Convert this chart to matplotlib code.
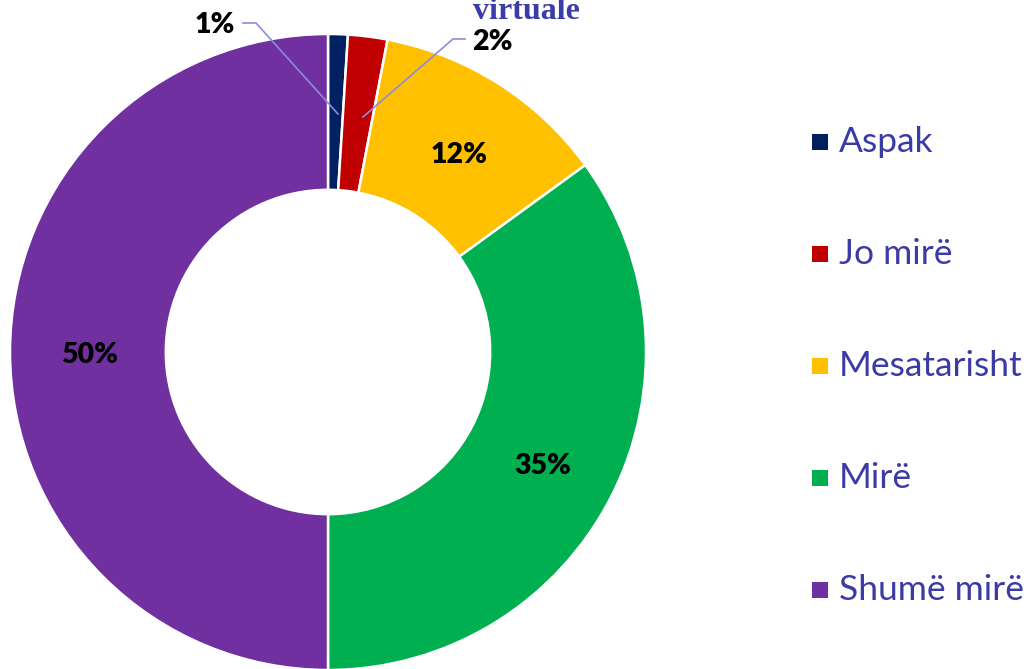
import matplotlib.pyplot as plt

categories = ["Aspak", "Jo mirë", "Mesatarisht", "Mirë", "Shumë mirë"]
shares = [1, 2, 12, 35, 50]
colors = ["#002060", "#C00000", "#FFC000", "#00B050", "#7030A0"]
title_tail = "virtuale"

plt.rcParams['font.family'] = ['Lato', 'DejaVu Sans']

fig = plt.figure(figsize=(10.26, 6.69), dpi=100)
# square axes in pixels so the ring is round: centre (328, 352), radius 318 px
ax = fig.add_axes([10 / 1026, (669 - 352 - 318) / 669, 636 / 1026, 636 / 669])

wedges, _ = ax.pie(shares, colors=colors, startangle=90, counterclock=False,
                   radius=1.0, wedgeprops=dict(width=0.49, edgecolor="white", linewidth=1.8))
ax.set_xlim(-1, 1)
ax.set_ylim(-1, 1)
ax.axis("off")

# percentage labels (figure pixel positions, y from top)
label_pos = [(215, 25), (492, 42), (459, 155), (543, 466), (90, 355)]
for v, (px, py) in zip(shares, label_pos):
    fig.text(px / 1026, 1 - py / 669, f"{v}%", ha="center", va="center",
             fontsize=20.5, fontweight="heavy", color="black")

# leader lines for the two thin slices
leader = "#8C8CDC"
for xs, ys in [([243, 256, 338], [23, 23, 114]), ([465, 453, 363], [39, 39, 117])]:
    fig.add_artist(plt.Line2D([x / 1026 for x in xs], [1 - y / 669 for y in ys],
                              color=leader, linewidth=1.2))

# last line of the title, cut by the top edge
fig.text(473 / 1026, 1 - 19 / 669, title_tail, ha="left", va="baseline",
         fontsize=23, fontweight="bold", family="Liberation Serif", color="#3C3CA8")

# legend
text_color = "#3B3BA6"
for i, (name, c) in enumerate(zip(categories, colors)):
    y = 142 + 112 * i
    fig.add_artist(plt.Rectangle((812 / 1026, 1 - (y + 8) / 669), 16 / 1026, 16 / 669,
                                 facecolor=c, edgecolor="none"))
    fig.text(839 / 1026, 1 - y / 669, name, ha="left", va="center",
             fontsize=25.5, color=text_color)

fig.savefig("out.png", dpi=100)
